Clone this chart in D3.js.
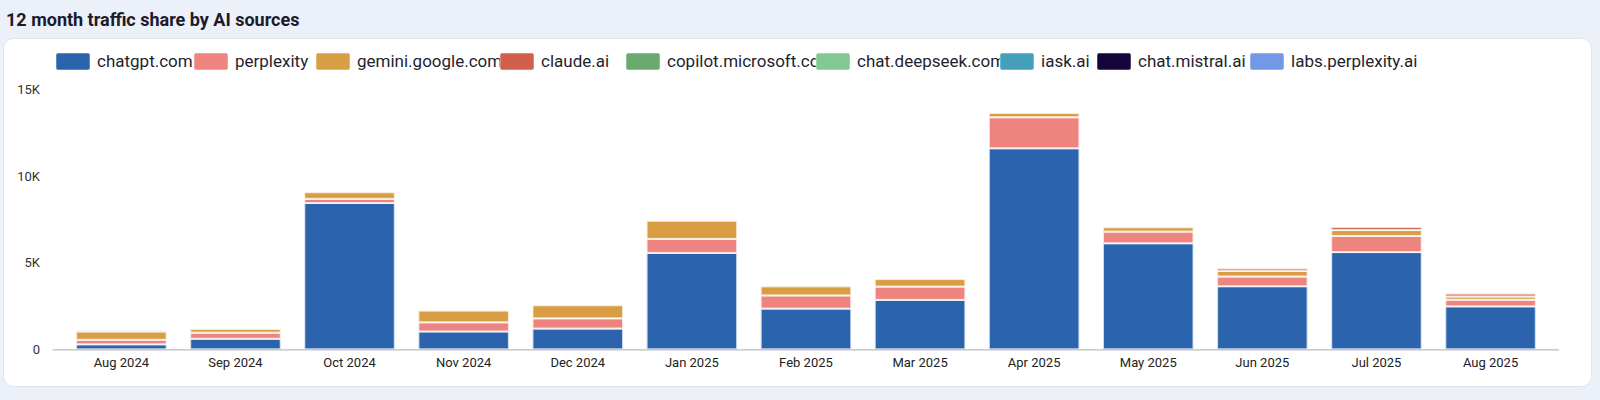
<!DOCTYPE html>
<html>
<head>
<meta charset="utf-8">
<script src="https://cdn.jsdelivr.net/npm/d3@7"></script>
<style>
  html, body { margin: 0; padding: 0; background: #ecf0f9; }
  svg { display: block; font-family: Roboto, "Noto Sans", sans-serif; }
</style>
</head>
<body>
<svg id="chart" width="1600" height="400"></svg>
<script>
// ---- data ----
const months = ["Aug 2024", "Sep 2024", "Oct 2024", "Nov 2024", "Dec 2024", "Jan 2025", "Feb 2025",
                "Mar 2025", "Apr 2025", "May 2025", "Jun 2025", "Jul 2025", "Aug 2025"];
const seriesNames = ["chatgpt.com", "perplexity", "gemini.google.com", "claude.ai", "copilot.microsoft.com",
                     "chat.deepseek.com", "iask.ai", "chat.mistral.ai", "labs.perplexity.ai"];
const seriesColors = ["#2b64ad", "#ee8480", "#d99e44", "#d0604c", "#6aa96e", "#82c892", "#459fbb", "#16053a", "#7298e6"];
const chatgpt    = [290, 610, 8440, 1030, 1200, 5560, 2350, 2850, 11600, 6120, 3640, 5610, 2480];
const perplexity = [260, 350, 240, 530, 590, 810, 760, 770, 1790, 670, 560, 930, 380];
const gemini     = [480, 210, 380, 670, 750, 1040, 520, 430, 240, 250, 320, 340, 190];
const claude     = [0, 0, 0, 0, 0, 0, 0, 0, 0, 0, 140, 170, 160];
const copilot    = [0, 0, 0, 0, 0, 0, 0, 0, 0, 0, 0, 0, 0];
const deepseek   = [0, 0, 0, 0, 0, 0, 0, 0, 0, 0, 0, 0, 0];
const iask       = [40, 0, 0, 0, 0, 0, 0, 0, 0, 0, 0, 0, 0];
const mistral    = [0, 0, 0, 0, 0, 0, 0, 0, 0, 0, 0, 0, 0];
const labsPerplexity = [0, 0, 0, 0, 0, 0, 0, 0, 0, 0, 0, 0, 0];
const yTicks = [0, 5000, 10000, 15000];
const yTickLabels = ["0", "5K", "10K", "15K"];
const title = "12 month traffic share by AI sources";

// ---- build table ----
const seriesValues = [chatgpt, perplexity, gemini, claude, copilot, deepseek, iask, mistral, labsPerplexity];
const table = months.map((m, i) => {
  const row = { month: m };
  seriesNames.forEach((s, k) => { row[s] = seriesValues[k][i]; });
  return row;
});
const stacked = d3.stack().keys(seriesNames)(table);

// ---- layout ----
const svg = d3.select("#chart");
svg.append("rect").attr("x", 3.5).attr("y", 38.5).attr("width", 1588).attr("height", 348)
  .attr("rx", 10).attr("fill", "#fff").attr("stroke", "#dfe5f0");

svg.append("text").attr("x", 6).attr("y", 26).attr("font-size", 18).attr("font-weight", 700)
  .attr("fill", "#1b1b2b").text(title);

const x = d3.scaleBand().domain(months).range([64.3, 1547.6]).paddingInner(0.207).paddingOuter(0.1035);
const y = d3.scaleLinear().domain([0, 15000]).range([349.3, 89.3]);
const color = d3.scaleOrdinal().domain(seriesNames).range(seriesColors);

// bars
const g = svg.append("g");
stacked.forEach(layer => {
  g.append("g").selectAll("rect").data(layer.filter(d => d[1] - d[0] > 0)).join("rect")
    .attr("x", d => x(d.data.month))
    .attr("width", x.bandwidth())
    .attr("y", d => y(d[1]))
    .attr("height", d => y(d[0]) - y(d[1]))
    .attr("fill", color(layer.key))
    .attr("stroke", "#fff")
    .attr("stroke-opacity", 0.75)
    .attr("stroke-width", 2);
});

// x axis
svg.append("line").attr("x1", 52.7).attr("x2", 1559).attr("y1", 349.8).attr("y2", 349.8)
  .attr("stroke", "#bdbdbd").attr("stroke-width", 1.2);
const xAxis = svg.append("g").attr("transform", "translate(0,350)")
  .call(d3.axisBottom(x).tickSize(0).tickPadding(8));
xAxis.select(".domain").remove();
xAxis.selectAll("text").attr("font-size", 13).attr("fill", "#222").attr("font-family", "Roboto, sans-serif");

// y axis
const yAxis = svg.append("g").attr("transform", "translate(40,0)")
  .call(d3.axisLeft(y).tickValues(yTicks).tickSize(0).tickPadding(0)
    .tickFormat((d, i) => yTickLabels[i]));
yAxis.select(".domain").remove();
yAxis.selectAll("text").attr("font-size", 13).attr("fill", "#333").attr("font-family", "Roboto, sans-serif");

// legend
const legendX = [56, 194, 316, 500, 626, 816, 1000, 1097, 1250];
const legend = svg.append("g");
legend.selectAll("text").data(seriesNames).join("text")
  .attr("x", (d, i) => legendX[i] + 41)
  .attr("y", 61.5)
  .attr("dy", "0.35em")
  .attr("font-size", 17)
  .attr("fill", "#1f1f2e")
  .text(d => d);
legend.selectAll("rect").data(seriesNames).join("rect")
  .attr("x", (d, i) => legendX[i])
  .attr("y", 53)
  .attr("width", 34)
  .attr("height", 17)
  .attr("rx", 2)
  .attr("fill", d => color(d))
  .attr("stroke", "#fff").attr("stroke-opacity", 0.5).attr("stroke-width", 1);
</script>
</body>
</html>
